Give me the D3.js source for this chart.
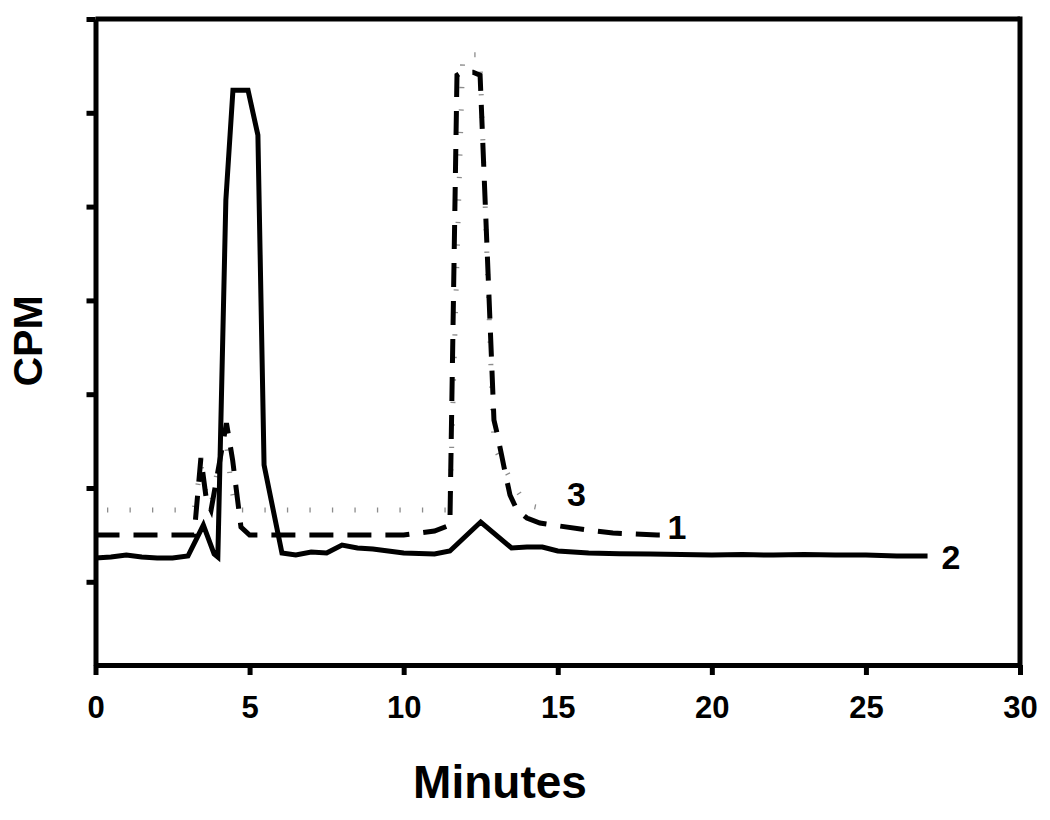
<!DOCTYPE html>
<html>
<head>
<meta charset="utf-8">
<script src="https://cdn.jsdelivr.net/npm/d3@7"></script>
<style>
  body { margin: 0; background: #fff; }
  svg text { font-family: "Liberation Sans", Arial, sans-serif; font-weight: bold; }
</style>
</head>
<body>
<div id="chart"></div>
<script>
// x axis ticks (minutes) and y ticks (no labels shown)
const minuteTicks = [0, 5, 10, 15, 20, 25, 30];
const cpmTicks = [1000, 2000, 3000, 4000, 5000, 6000, 7000];

// trace 1 (dashed)
const time1 = [0, 3.2, 3.42, 3.6, 3.75, 4.25, 4.45, 4.72, 5.0, 10.0, 11.0, 11.5, 11.73, 11.89, 12.25, 12.48,
  12.93, 13.03, 13.19, 13.29, 13.45, 13.68, 14.0, 14.42, 14.84, 15.95, 16.79, 18.22, 18.5];
const cpm1 = [1499, 1499, 2319, 1872, 1765, 2692, 2298, 1584, 1499, 1499, 1541, 1605, 6401, 6433, 6433, 6401,
  2724, 2586, 2330, 2170, 1925, 1765, 1680, 1626, 1605, 1552, 1520, 1499, 1499];

// trace 2 (solid)
const time2 = [0, 0.5, 1.0, 1.5, 2.0, 2.5, 3.0, 3.5, 3.85, 3.97, 4.23, 4.46, 4.95, 5.27, 5.47, 6.05, 6.5, 7.0,
  7.5, 8.0, 8.5, 9.0, 9.5, 10.0, 11.0, 11.5, 12.5, 13.5, 14.0, 14.5, 15.0, 16.0, 17.0, 18.0, 19.0, 20.0, 21.0,
  22.0, 23.0, 24.0, 25.0, 26.0, 27.0];
const cpm2 = [1253, 1264, 1285, 1264, 1253, 1253, 1275, 1605, 1296, 1264, 5069, 6241, 6241, 5762, 2245, 1307,
  1285, 1317, 1307, 1392, 1360, 1350, 1328, 1307, 1296, 1328, 1637, 1360, 1371, 1371, 1328, 1307, 1300, 1296,
  1290, 1285, 1290, 1285, 1290, 1285, 1285, 1275, 1275];

// trace 3 (dotted, grey)
const time3 = [0, 3.2, 3.42, 3.6, 3.75, 4.2, 4.4, 4.55, 11.5, 11.92, 12.47, 12.9, 12.96, 13.51, 13.74, 14.0, 14.29, 14.49];
const cpm3 = [1765, 1765, 2245, 1925, 1818, 2618, 2031, 1765, 1765, 6620, 6620, 2671, 2426, 2063, 1946, 1818, 1797, 1765];

const traceNames = ["1", "2", "3"];

const width = 1050, height = 820;
const svg = d3.select("#chart").append("svg")
  .attr("width", width)
  .attr("height", height);

const x = d3.scaleLinear().domain([0, 30]).range([95.5, 1020]);
const y = d3.scaleLinear().domain([113, 7000]).range([665, 19]);

const toPoints = (ts, vs) => ts.map((t, i) => ({ t, v: vs[i] }));
const traces = [
  { name: traceNames[0], pts: toPoints(time1, cpm1), stroke: "#000", w: 5, dash: "24,14", offset: 0, dx: 2, dy: -8 },
  { name: traceNames[1], pts: toPoints(time2, cpm2), stroke: "#000", w: 5, dash: null, offset: 0, dx: 14, dy: 1 },
  { name: traceNames[2], pts: toPoints(time3, cpm3), stroke: "#8c8c8c", w: 5, dash: "1.3,21.2", offset: 11, dx: 25, dy: -16 }
];

const line = d3.line().x(d => x(d.t)).y(d => y(d.v));

// frame: top and right border
svg.append("line")
  .attr("x1", x(0)).attr("x2", x(30)).attr("y1", y(7000)).attr("y2", y(7000))
  .attr("stroke", "#000").attr("stroke-width", 5);
svg.append("line")
  .attr("x1", x(30)).attr("x2", x(30)).attr("y1", y(7000) - 2.5).attr("y2", y(113))
  .attr("stroke", "#000").attr("stroke-width", 5);

// draw traces, grey dotted one underneath
[traces[2], traces[0], traces[1]].forEach(tr => {
  svg.append("path")
    .datum(tr.pts)
    .attr("d", line)
    .attr("fill", "none")
    .attr("stroke", tr.stroke)
    .attr("stroke-width", tr.w)
    .attr("stroke-linejoin", "miter")
    .attr("stroke-dasharray", tr.dash)
    .attr("stroke-dashoffset", tr.offset);
});

// y axis
const yAxis = svg.append("g")
  .attr("transform", `translate(${x(0)},0)`)
  .call(d3.axisLeft(y).tickValues(cpmTicks).tickFormat("").tickSize(9).tickSizeOuter(0));
yAxis.select(".domain").attr("stroke-width", 5);
yAxis.selectAll(".tick line").attr("stroke-width", 5);

// x axis
const xAxis = svg.append("g")
  .attr("transform", `translate(0,${y(113)})`)
  .call(d3.axisBottom(x).tickValues(minuteTicks).tickSize(10).tickSizeOuter(0).tickPadding(21));
xAxis.select(".domain").attr("stroke-width", 5);
xAxis.selectAll(".tick line").attr("stroke-width", 5);
xAxis.selectAll(".tick text")
  .style("font-size", "31px")
  .attr("fill", "#000");

// trace labels at the end of each trace
traces.forEach(tr => {
  const last = tr.pts[tr.pts.length - 1];
  svg.append("text")
    .attr("x", x(last.t) + tr.dx)
    .attr("y", y(last.v) + tr.dy)
    .attr("dominant-baseline", "central")
    .style("font-size", "34px")
    .text(tr.name);
});

// axis titles
svg.append("text")
  .attr("x", 500)
  .attr("y", 798)
  .attr("text-anchor", "middle")
  .style("font-size", "46px")
  .text("Minutes");

svg.append("text")
  .attr("transform", "translate(42,341) rotate(-90)")
  .attr("text-anchor", "middle")
  .style("font-size", "41px")
  .text("CPM");
</script>
</body>
</html>
